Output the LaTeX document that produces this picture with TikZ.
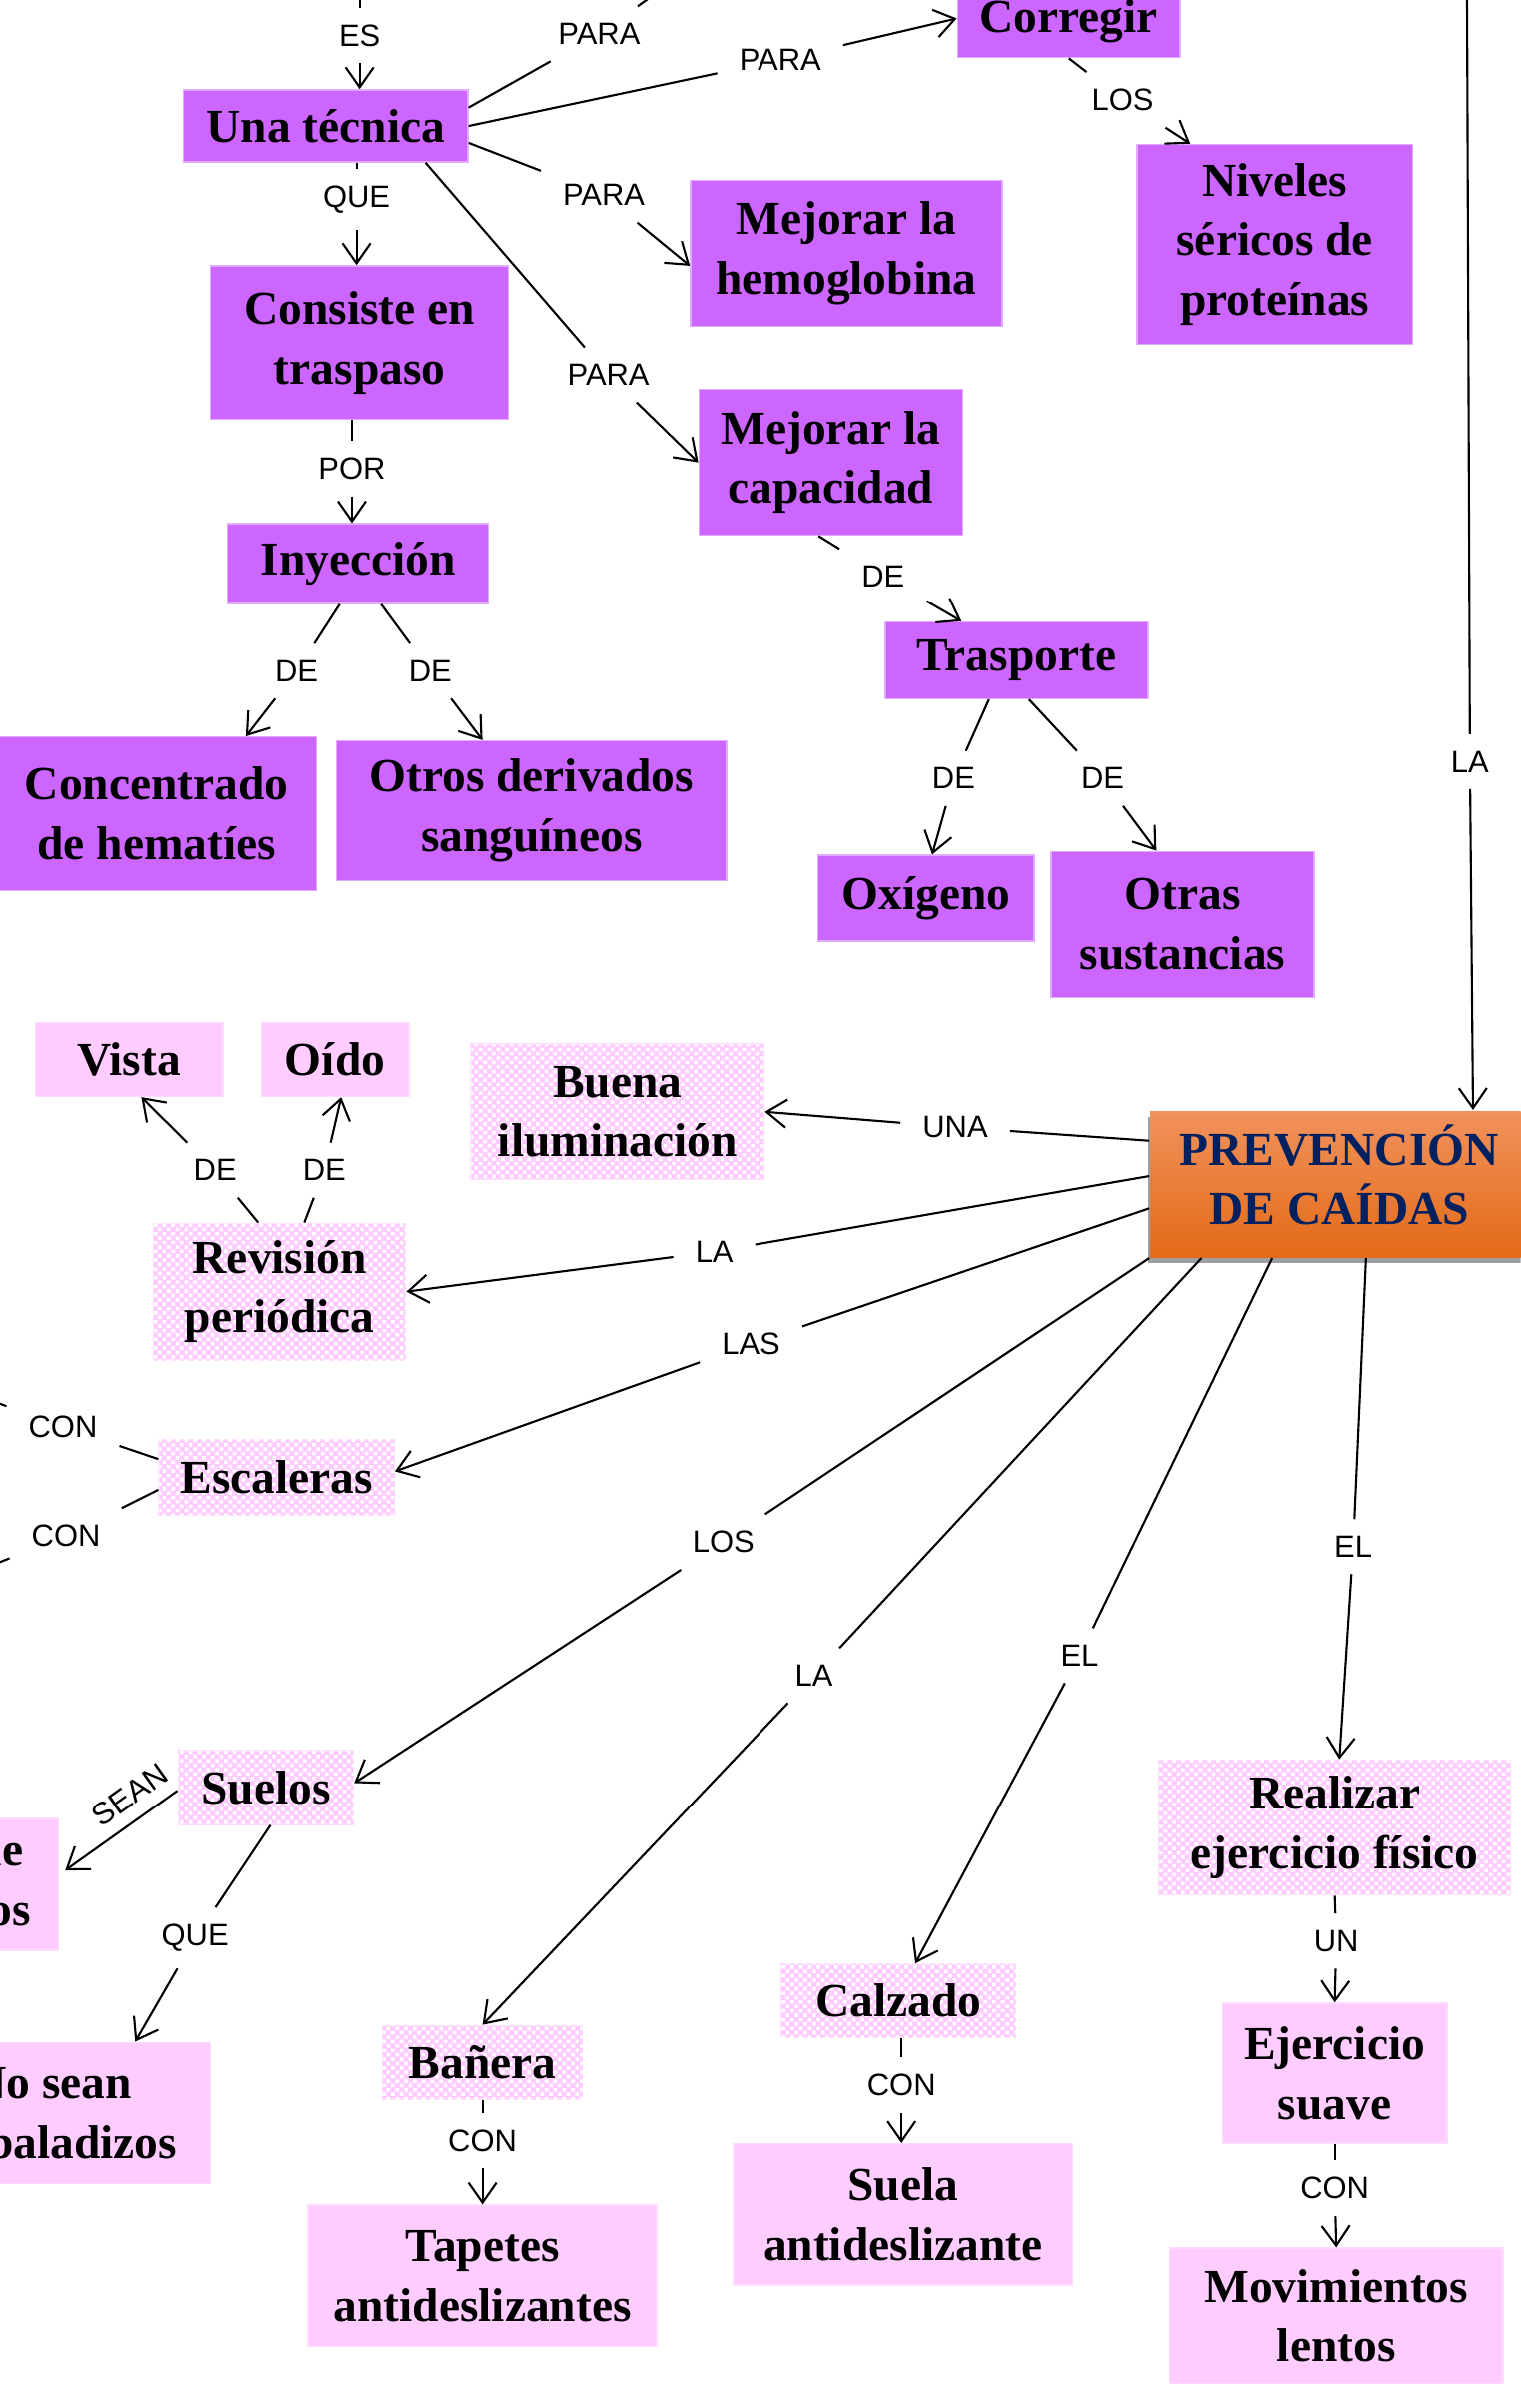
\documentclass[tikz,border=0pt]{standalone}
\usepackage{fontspec}
\setmainfont{Liberation Serif}
\newfontfamily\etiqfont{Liberation Sans}
\usepackage{xcolor}
\usepackage{tikz}
\usetikzlibrary{positioning,calc,arrows.meta,shadows,patterns}

\definecolor{lila}{RGB}{204,102,255}
\definecolor{rosa}{RGB}{255,204,255}
\definecolor{azulosc}{RGB}{0,32,96}
\definecolor{naranjaA}{RGB}{241,146,92}
\definecolor{naranjaB}{RGB}{227,106,24}
\newcommand{\unidad}{0.015364cm}

% trama fina para las cajas rosadas
\pgfdeclarepatternformonly{tramita}{\pgfqpoint{-.1pt}{-.1pt}}{\pgfqpoint{2.6pt}{2.6pt}}{\pgfqpoint{2.5pt}{2.5pt}}{%
  \pgfpathrectangle{\pgfqpoint{0pt}{0pt}}{\pgfqpoint{1pt}{1pt}}%
  \pgfpathrectangle{\pgfqpoint{1.25pt}{1.25pt}}{\pgfqpoint{1pt}{1pt}}%
  \pgfusepath{fill}}

\begin{document}
\begin{tikzpicture}[
    x=\unidad, y=-\unidad,
    >={Straight Barb[length=2mm,width=2.8mm]},
    line width=0.6pt,
    caja/.style={align=center, inner sep=0pt, font=\bfseries\fontsize{13.5}{17}\selectfont},
    tam/.style 2 args={minimum width=#1*\unidad, minimum height=#2*\unidad},
    morado/.style={fill=lila, draw=lila!55!white, line width=0.4pt},
    rosado/.style={fill=rosa, draw=rosa!70!white, line width=0.4pt},
    trama/.style={rosado, postaction={pattern=tramita, pattern color=white}},
    etiq/.style={font=\etiqfont\fontsize{8.8}{10}\selectfont, inner xsep=6pt, inner ysep=4.5pt}
]
\useasboundingbox (0,0) rectangle (990,1568);
\clip (0,0) rectangle (990,1568);

% Arriba: la tecnica
\node (unatec) [caja, morado, tam={185}{47}] at (212,82) {Una técnica};
\node (consiste) [caja, morado, tam={194}{100}] at (234,223) {Consiste en\\traspaso};
\node (inyeccion) [caja, morado, tam={170}{52}] at (233,367) {Inyección};
\node (concentrado) [caja, morado, tam={208}{100}] at (102,530) {Concentrado\\de hematíes};
\node (otros) [caja, morado, tam={254}{91}] at (346,528) {Otros derivados\\sanguíneos};

% Arriba: para que sirve
\node (corregir) [caja, morado, tam={145}{47}] at (696,14) {Corregir};
\node (niveles) [caja, morado, tam={179}{130}] at (830,159) {Niveles\\séricos de\\proteínas};
\node (mejhemo) [caja, morado, tam={203}{95}] at (551,165) {Mejorar la\\hemoglobina};
\node (mejcap) [caja, morado, tam={172}{95}] at (541,301) {Mejorar la\\capacidad};
\node (trasporte) [caja, morado, tam={171}{50}] at (662,430) {Trasporte};
\node (oxigeno) [caja, morado, tam={141}{56}] at (603,585) {Oxígeno};
\node (otrassust) [caja, morado, tam={171}{95}] at (770,602) {Otras\\sustancias};

% Centro: prevencion
\node (prev) [caja, tam={246}{95}, top color=naranjaA, bottom color=naranjaB,
    drop shadow={shadow xshift=-0.6pt, shadow yshift=-1.6pt, fill=gray!75, opacity=1}] at (872,771) {};
\node (prevtexto) [caja, text=azulosc] at ($(prev.center)+(0,-6)$) {PREVENCIÓN\\DE CAÍDAS};

% Abajo: medidas
\node (vista) [caja, rosado, tam={122}{48}] at (84,690) {Vista};
\node (oido) [caja, rosado, tam={96}{48}] at (218,690) {Oído};
\node (buena) [caja, trama, tam={191}{88}] at (402,724) {Buena\\iluminación};
\node (revision) [caja, trama, tam={164}{89}] at (182,841) {Revisión\\periódica};
\node (escaleras) [caja, trama, tam={153}{49}] at (180,962) {Escaleras};
\node (suelos) [caja, trama, tam={114}{48}] at (173,1164) {Suelos};
\node (firmes) [caja, rosado, tam={126}{86}] at (-25,1227) {Firme\\y secos};
\node (nosean) [caja, rosado, tam={206}{92}] at (34,1376) {No sean\\resbaladizos};
\node (banera) [caja, trama, tam={130}{48}] at (314,1343) {Bañera};
\node (tapetes) [caja, rosado, tam={227}{92}] at (314,1482) {Tapetes\\antideslizantes};
\node (calzado) [caja, trama, tam={153}{48}] at (585,1303) {Calzado};
\node (suela) [caja, rosado, tam={221}{92}] at (588,1442) {Suela\\antideslizante};
\node (realizar) [caja, trama, tam={229}{88}] at (869,1190) {Realizar\\ejercicio físico};
\node (ejsuave) [caja, rosado, tam={146}{91}] at (869,1350) {Ejercicio\\suave};
\node (movim) [caja, rosado, tam={217}{88}] at (870,1508) {Movimientos\\lentos};

% Etiquetas de los enlaces
\node (lEs) [etiq] at (234,23) {ES};
\node (lPara1) [etiq] at (390,22) {PARA};
\node (lPara2) [etiq] at (508,39) {PARA};
\node (lPara3) [etiq] at (393,127) {PARA};
\node (lPara4) [etiq] at (396,244) {PARA};
\node (lQue1) [etiq] at (232,130) {QUE};
\node (lPor) [etiq] at (229,305) {POR};
\node (lLos1) [etiq] at (731,65) {LOS};
\node (lDe1) [etiq] at (575,375) {DE};
\node (lDe2) [etiq] at (193,437) {DE};
\node (lDe3) [etiq] at (280,437) {DE};
\node (lDe4) [etiq] at (621,507) {DE};
\node (lDe5) [etiq] at (718,507) {DE};
\node (lLa1) [etiq] at (957,496) {LA};
\node (lUna) [etiq] at (622,734) {UNA};
\node (lLa2) [etiq] at (465,815) {LA};
\node (lLas) [etiq] at (489,875) {LAS};
\node (lLos2) [etiq] at (471,1004) {LOS};
\node (lLa3) [etiq] at (530,1091) {LA};
\node (lEl1) [etiq] at (703,1078) {EL};
\node (lEl2) [etiq] at (881,1007) {EL};
\node (lUn) [etiq] at (870,1264) {UN};
\node (lCon1) [etiq] at (869,1425) {CON};
\node (lCon2) [etiq] at (587,1358) {CON};
\node (lCon3) [etiq] at (314,1394) {CON};
\node (lDe6) [etiq] at (140,762) {DE};
\node (lDe7) [etiq] at (211,762) {DE};
\node (lCon4) [etiq] at (41,929) {CON};
\node (lCon5) [etiq] at (43,1000) {CON};
\node (lQue2) [etiq] at (127,1262) {QUE};

% Extremos que salen del recorte
\coordinate (arribaEs) at (234,-30);
\coordinate (arribaPara) at (432,-8);
\coordinate (arribaLa) at (955,-30);
\coordinate (izqCon1) at (-30,903);
\coordinate (izqCon2) at (-30,1029);

% Enlaces de la tecnica
\draw (arribaEs) -- (lEs);
\draw[->] (lEs) -- (lEs |- unatec.north);
\draw ($(unatec.east)+(0,-12)$) -- (lPara1);
\draw (lPara1) -- (arribaPara);
\draw (unatec.east) -- (lPara2);
\draw[->] (lPara2) -- ($(corregir.west)+(0,-2)$);
\draw ($(unatec.east)+(0,11)$) -- (lPara3);
\draw[->] (lPara3) -- ($(mejhemo.west)+(0,8)$);
\draw ($(unatec.south east)+(-28,0)$) -- (lPara4);
\draw[->] (lPara4) -- (mejcap.west);
\draw (unatec.south -| lQue1) -- (lQue1);
\draw[->] (lQue1) -- (lQue1 |- consiste.north);
\draw (consiste.south -| lPor) -- (lPor);
\draw[->] (lPor) -- (lPor |- inyeccion.north);
\draw ($(inyeccion.south)+(-12,0)$) -- (lDe2);
\draw[->] (lDe2) -- ($(concentrado.north)+(58,0)$);
\draw ($(inyeccion.south)+(15,0)$) -- (lDe3);
\draw[->] (lDe3) -- ($(otros.north)+(-32,0)$);
\draw (corregir.south) -- (lLos1);
\draw[->] (lLos1) -- ($(niveles.north west)+(35,0)$);
\draw ($(mejcap.south)+(-8,0)$) -- (lDe1);
\draw[->] (lDe1) -- ($(trasporte.north west)+(50,0)$);
\draw ($(trasporte.south)+(-18,0)$) -- (lDe4);
\draw[->] (lDe4) -- ($(oxigeno.north)+(4,0)$);
\draw ($(trasporte.south)+(8,0)$) -- (lDe5);
\draw[->] (lDe5) -- ($(otrassust.north)+(-17,0)$);

% Enlace que llega desde arriba
\draw (arribaLa) -- (lLa1);
\draw[->] (lLa1) -- ($(prev.north)+(87,0)$);

% Enlaces de la prevencion
\draw ($(prev.north west)+(0,20)$) -- (lUna);
\draw[->] (lUna) -- (buena.east);
\draw ($(prev.north west)+(0,43)$) -- (lLa2);
\draw[->] (lLa2) -- (revision.east);
\draw ($(prev.north west)+(0,64)$) -- (lLas);
\draw[->] (lLas) -- ($(escaleras.east)+(0,-4)$);
\draw (prev.south west) -- (lLos2);
\draw[->] (lLos2) -- ($(suelos.east)+(0,-3)$);
\draw ($(prev.south west)+(34,0)$) -- (lLa3);
\draw[->] (lLa3) -- (banera.north);
\draw ($(prev.south west)+(80,0)$) -- (lEl1);
\draw[->] (lEl1) -- ($(calzado.north)+(11,0)$);
\draw ($(prev.south west)+(141,0)$) -- (lEl2);
\draw[->] (lEl2) -- ($(realizar.north)+(3,0)$);

% Enlaces de las medidas
\draw ($(revision.north)+(-14,0)$) -- (lDe6);
\draw[->] (lDe6) -- ($(vista.south)+(8,0)$);
\draw ($(revision.north)+(16,0)$) -- (lDe7);
\draw[->] (lDe7) -- ($(oido.south)+(4,0)$);
\draw ($(escaleras.west)+(0,-12)$) -- (lCon4);
\draw (lCon4) -- (izqCon1);
\draw ($(escaleras.west)+(0,8)$) -- (lCon5);
\draw (lCon5) -- (izqCon2);
\draw[<-] ($(firmes.east)+(4,-9)$) -- node[etiq, sloped, above, pos=0.7, inner ysep=3.5pt] {SEAN} ($(suelos.west)+(0,2)$);
\draw ($(suelos.south)+(3,0)$) -- (lQue2);
\draw[->] (lQue2) -- ($(nosean.north)+(54,0)$);
\draw (banera.south) -- (lCon3);
\draw[->] (lCon3) -- (tapetes.north);
\draw (lCon2 |- calzado.south) -- (lCon2);
\draw[->] (lCon2) -- (lCon2 |- suela.north);
\draw (realizar.south) -- (lUn);
\draw[->] (lUn) -- (ejsuave.north);
\draw (ejsuave.south) -- (lCon1);
\draw[->] (lCon1) -- (movim.north);

\end{tikzpicture}
\end{document}
